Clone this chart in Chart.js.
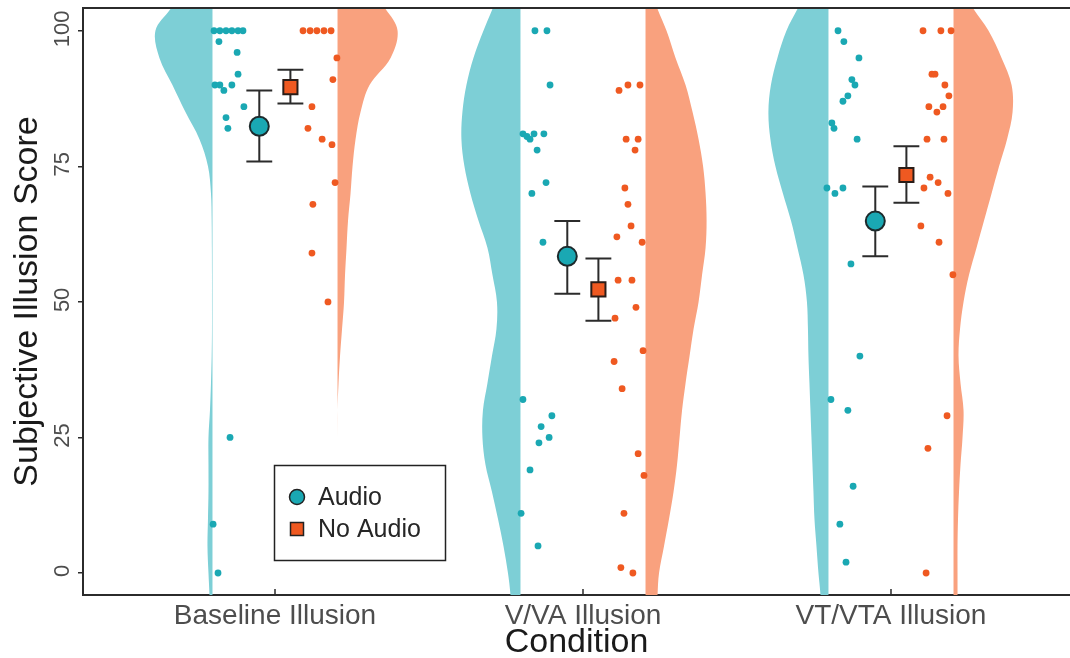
<!DOCTYPE html>
<html>
<head>
<meta charset="utf-8">
<script src="https://cdn.jsdelivr.net/npm/chart.js@4.4.1/dist/chart.umd.min.js"></script>
<style>
  html, body { margin: 0; padding: 0; background: #fff; }
  canvas { display: block; }
</style>
</head>
<body>
<canvas id="chart" width="1070" height="658"></canvas>
<script>
const conditions = ["Baseline Illusion", "V/VA Illusion", "VT/VTA Illusion"];
const yTicks = [0, 25, 50, 75, 100];

// individual scores per condition, with the horizontal jitter
const baselineAudio = [100, 100, 100, 100, 100, 100, 98, 96, 92, 90, 90, 89, 90, 86, 84, 82, 25, 9, 0];
const baselineAudioJitter = [-0.198, -0.179, -0.159, -0.140, -0.120, -0.104, -0.182, -0.123, -0.120, -0.195, -0.179, -0.166, -0.140, -0.101, -0.159, -0.153, -0.146, -0.201, -0.185];
const baselineNoAudio = [100, 100, 100, 100, 100, 95, 91, 86, 82, 80, 79, 72, 68, 59, 50];
const baselineNoAudioJitter = [0.091, 0.114, 0.136, 0.159, 0.182, 0.201, 0.188, 0.120, 0.107, 0.153, 0.185, 0.195, 0.123, 0.120, 0.172];

const vvaAudio = [100, 100, 90, 81, 80.5, 80, 81, 81, 78, 72, 70, 61, 32, 29, 27, 25, 24, 19, 11, 5];
const vvaAudioJitter = [-0.156, -0.117, -0.107, -0.195, -0.182, -0.172, -0.159, -0.127, -0.149, -0.120, -0.166, -0.130, -0.195, -0.101, -0.136, -0.110, -0.143, -0.172, -0.201, -0.146];
const vvaNoAudio = [89, 90, 90, 80, 80, 78, 71, 68, 64, 62, 61, 54, 54, 49, 47, 41, 39, 34, 22, 18, 11, 1, 0];
const vvaNoAudioJitter = [0.117, 0.146, 0.185, 0.140, 0.179, 0.169, 0.136, 0.146, 0.156, 0.110, 0.192, 0.114, 0.159, 0.172, 0.104, 0.195, 0.101, 0.127, 0.179, 0.198, 0.133, 0.123, 0.162];

const vtvtaAudio = [100, 98, 95, 91, 90, 88, 87, 83, 82, 80, 71, 70, 71, 57, 40, 32, 30, 16, 9, 2];
const vtvtaAudioJitter = [-0.172, -0.153, -0.104, -0.127, -0.117, -0.140, -0.156, -0.192, -0.185, -0.110, -0.208, -0.182, -0.156, -0.130, -0.101, -0.195, -0.140, -0.123, -0.166, -0.146];
const vtvtaNoAudio = [100, 100, 100, 92, 92, 90, 88, 86, 85, 86, 80, 80, 73, 72, 71, 70, 64, 61, 55, 29, 23, 0];
const vtvtaNoAudioJitter = [0.104, 0.162, 0.195, 0.133, 0.143, 0.175, 0.188, 0.123, 0.149, 0.169, 0.117, 0.172, 0.127, 0.153, 0.107, 0.185, 0.097, 0.156, 0.201, 0.182, 0.120, 0.114];

// means and error bars
const audioMean = [82.4, 58.4, 64.9];
const audioLower = [75.9, 51.5, 58.4];
const audioUpper = [89.0, 64.9, 71.3];
const noAudioMean = [89.6, 52.3, 73.4];
const noAudioLower = [86.6, 46.5, 68.3];
const noAudioUpper = [92.8, 58.0, 78.7];

// half violin densities (relative, peak ~60) at these scores
const densityY = [-8, -4, 0, 5, 10, 15, 20, 25, 30, 35, 40, 45, 50, 55, 60, 65, 70, 75, 80, 85, 90, 95, 100, 104, 108];
const baselineAudioDensity = [2.5, 3, 4, 5, 4.5, 4, 4, 4, 2.5, 1.5, 0.8, 0.5, 0.5, 0.5, 0.6, 0.8, 1.5, 4.5, 13, 27, 40, 53, 57, 42, 28];
const baselineNoAudioDensity = [0, 0, 0, 0, 0, 0, 0, 0, 0, 1, 2.5, 4.5, 6.5, 7.5, 9, 10.5, 13, 15, 18, 23, 32, 53, 60, 48, 30];
const vvaAudioDensity = [9, 10, 12.5, 17, 22.5, 28.5, 35, 38, 37.5, 33, 28.5, 24, 23.5, 28, 33, 42, 50, 56, 59, 58, 54, 47, 37, 28, 20];
const vvaNoAudioDensity = [11, 12, 13.5, 18.5, 23.5, 28, 31.5, 34, 36.5, 40, 44, 48, 53, 56.5, 60, 61, 60, 57.5, 53, 47, 40, 30, 21, 12, 5];
const vtvtaAudioDensity = [7, 8, 10, 12, 14, 15, 16, 17, 18, 19, 20, 20.5, 21.5, 25, 31, 37.5, 45.5, 53, 58, 60, 57.5, 51, 42, 31, 20];
const vtvtaNoAudioDensity = [4, 4, 4, 4, 4.5, 5.5, 7, 9, 10, 7, 5, 6.5, 10, 15.5, 23, 30.5, 38, 45.5, 53.5, 59, 58, 48, 35, 20, 8];

const TEAL = '#1aa8b3';
const TEAL_LIGHT = '#7dcfd6';
const ORANGE = '#ef5921';
const ORANGE_LIGHT = '#f9a17e';
const INK = '#2b2b2b';

const VIOLIN_GAP = 0.203;
const VIOLIN_SCALE = 0.195 / 60;
const CAP = 0.042;

function jitterPoints(cat, scores, jitter) {
  return scores.map((v, i) => ({ x: cat + jitter[i], y: v }));
}

function violinShape(cat, side, density) {
  const outer = densityY.map((y, i) => ({ x: cat + side * (VIOLIN_GAP + density[i] * VIOLIN_SCALE), y }));
  const inner = densityY.map(y => ({ x: cat + side * VIOLIN_GAP, y })).reverse();
  return outer.concat(inner);
}

function errorBars(offset, lower, upper) {
  const pts = [];
  lower.forEach((lo, i) => {
    const x = i + offset, hi = upper[i];
    pts.push({ x, y: lo }, { x, y: hi }, { x, y: null },
             { x: x - CAP, y: hi }, { x: x + CAP, y: hi }, { x, y: null },
             { x: x - CAP, y: lo }, { x: x + CAP, y: lo }, { x, y: null });
  });
  return pts;
}

function violin(data, color) {
  return {
    type: 'line', data, fill: 'shape', backgroundColor: color,
    borderColor: 'rgba(0,0,0,0)', borderWidth: 0, pointRadius: 0, tension: 0.35, order: 5
  };
}

const audioPoints = [].concat(
  jitterPoints(0, baselineAudio, baselineAudioJitter),
  jitterPoints(1, vvaAudio, vvaAudioJitter),
  jitterPoints(2, vtvtaAudio, vtvtaAudioJitter));
const noAudioPoints = [].concat(
  jitterPoints(0, baselineNoAudio, baselineNoAudioJitter),
  jitterPoints(1, vvaNoAudio, vvaNoAudioJitter),
  jitterPoints(2, vtvtaNoAudio, vtvtaNoAudioJitter));

Chart.defaults.font.family = "'Liberation Sans', Arial, sans-serif";

// frame top line, inner x ticks, rotated y labels and the legend box
const extrasPlugin = {
  id: 'extras',
  afterDraw(chart) {
    const { ctx, chartArea: a, scales: { x, y } } = chart;
    ctx.save();
    ctx.strokeStyle = INK;
    ctx.lineWidth = 2;
    ctx.beginPath();
    ctx.moveTo(a.left - 1, a.top);
    ctx.lineTo(a.right, a.top);
    ctx.stroke();

    ctx.lineWidth = 1.5;
    ctx.beginPath();
    conditions.forEach((_, i) => {
      const px = x.getPixelForValue(i);
      ctx.moveTo(px, a.bottom);
      ctx.lineTo(px, a.bottom - 6);
    });
    ctx.stroke();

    ctx.fillStyle = '#4d4d4d';
    ctx.font = "22px 'Liberation Sans', Arial, sans-serif";
    ctx.textAlign = 'center';
    ctx.textBaseline = 'middle';
    yTicks.forEach(v => {
      ctx.save();
      ctx.translate(63, y.getPixelForValue(v) - 2);
      ctx.rotate(-Math.PI / 2);
      ctx.fillText(String(v), 0, 0);
      ctx.restore();
    });

    // legend
    ctx.fillStyle = '#fff';
    ctx.fillRect(274, 465, 172, 96);
    ctx.strokeStyle = '#222';
    ctx.lineWidth = 1.5;
    ctx.strokeRect(274.5, 465.5, 171, 95);
    ctx.beginPath();
    ctx.arc(297, 497, 7.5, 0, Math.PI * 2);
    ctx.fillStyle = TEAL;
    ctx.fill();
    ctx.stroke();
    ctx.fillStyle = ORANGE;
    ctx.fillRect(290.5, 522.5, 13, 13);
    ctx.strokeRect(290.5, 522.5, 13, 13);
    ctx.fillStyle = '#262626';
    ctx.font = "25px 'Liberation Sans', Arial, sans-serif";
    ctx.textAlign = 'left';
    ctx.fillText('Audio', 318, 498);
    ctx.fillText('No Audio', 318, 530);
    ctx.restore();
  }
};

new Chart(document.getElementById('chart'), {
  type: 'scatter',
  data: {
    datasets: [
      violin(violinShape(0, -1, baselineAudioDensity), TEAL_LIGHT),
      violin(violinShape(0, 1, baselineNoAudioDensity), ORANGE_LIGHT),
      violin(violinShape(1, -1, vvaAudioDensity), TEAL_LIGHT),
      violin(violinShape(1, 1, vvaNoAudioDensity), ORANGE_LIGHT),
      violin(violinShape(2, -1, vtvtaAudioDensity), TEAL_LIGHT),
      violin(violinShape(2, 1, vtvtaNoAudioDensity), ORANGE_LIGHT),
      { label: 'Audio scores', data: audioPoints, backgroundColor: TEAL, borderWidth: 0, pointRadius: 3.4, order: 4 },
      { label: 'No Audio scores', data: noAudioPoints, backgroundColor: ORANGE, borderWidth: 0, pointRadius: 3.4, order: 4 },
      { type: 'line', data: errorBars(-0.051, audioLower, audioUpper), borderColor: INK, borderWidth: 2, pointRadius: 0, fill: false, spanGaps: false, tension: 0, order: 3 },
      { type: 'line', data: errorBars(0.05, noAudioLower, noAudioUpper), borderColor: INK, borderWidth: 2, pointRadius: 0, fill: false, spanGaps: false, tension: 0, order: 3 },
      { label: 'Audio', data: audioMean.map((v, i) => ({ x: i - 0.051, y: v })), pointStyle: 'circle', pointRadius: 9.5, backgroundColor: TEAL, borderColor: '#1d2a2c', borderWidth: 2, order: 2 },
      { label: 'No Audio', data: noAudioMean.map((v, i) => ({ x: i + 0.05, y: v })), pointStyle: 'rect', pointRadius: 10, backgroundColor: ORANGE, borderColor: '#2a1d18', borderWidth: 2, order: 1 }
    ]
  },
  options: {
    responsive: false,
    animation: false,
    devicePixelRatio: 1,
    layout: { autoPadding: false, padding: { top: 8, left: 0, right: 0, bottom: 0 } },
    plugins: { legend: { display: false }, tooltip: { enabled: false } },
    scales: {
      x: {
        type: 'linear', min: -0.6234, max: 2.5812,
        afterFit(scale) { scale.height = 63; scale.paddingLeft = 0; scale.paddingRight = 0; },
        afterBuildTicks(scale) { scale.ticks = conditions.map((_, i) => ({ value: i })); },
        grid: { drawOnChartArea: false, drawTicks: false },
        border: { color: INK, width: 2 },
        ticks: {
          autoSkip: false, maxRotation: 0, minRotation: 0, padding: 4,
          color: '#4d4d4d', font: { size: 28 },
          callback: v => conditions[v]
        },
        title: { display: true, text: 'Condition', color: '#1a1a1a', font: { size: 34, lineHeight: 1 }, padding: { top: 0, bottom: -2 } }
      },
      y: {
        type: 'linear', min: -4.06, max: 104.2,
        afterFit(scale) { scale.width = 83; scale.paddingTop = 0; scale.paddingBottom = 0; },
        afterBuildTicks(scale) { scale.ticks = yTicks.map(v => ({ value: v })); },
        grid: { drawOnChartArea: false, drawTicks: true, tickLength: 5, color: INK, lineWidth: 1.5 },
        border: { color: INK, width: 2 },
        ticks: { display: false },
        title: { display: true, text: 'Subjective Illusion Score', color: '#1a1a1a', font: { size: 34, lineHeight: 1 }, padding: { top: 11, bottom: 0 } }
      }
    }
  },
  plugins: [extrasPlugin]
});
</script>
</body>
</html>
